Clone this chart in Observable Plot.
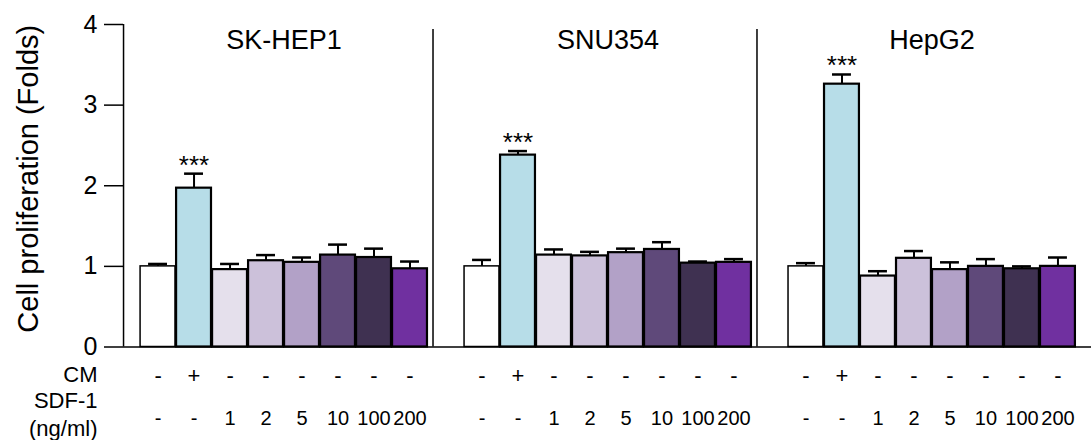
<!DOCTYPE html>
<html><head><meta charset="utf-8">
<script src="https://cdn.jsdelivr.net/npm/d3@7"></script>
<script src="https://cdn.jsdelivr.net/npm/@observablehq/plot@0.6"></script>
<style>body{margin:0;background:#fff;} svg{display:block;}</style>
</head><body><div id="chart"></div>
<script>
const groups = ["SK-HEP1", "SNU354", "HepG2"];
const cmRow = ["-", "+", "-", "-", "-", "-", "-", "-"];
const sdfRow = ["-", "-", "1", "2", "5", "10", "100", "200"];
const barColors = ["#ffffff", "#b7dde8", "#e5e0ec", "#ccc1da", "#b2a1c7", "#5f497a", "#3f3151", "#7030a0"];
const skhep1 = [1.00, 1.97, 0.96, 1.07, 1.05, 1.14, 1.11, 0.97];
const skhep1Err = [0.03, 0.18, 0.07, 0.07, 0.06, 0.13, 0.11, 0.09];
const snu354 = [1.00, 2.38, 1.14, 1.13, 1.17, 1.21, 1.04, 1.05];
const snu354Err = [0.08, 0.05, 0.07, 0.05, 0.05, 0.09, 0.02, 0.04];
const hepg2 = [1.00, 3.26, 0.88, 1.10, 0.96, 1.00, 0.97, 1.00];
const hepg2Err = [0.04, 0.12, 0.06, 0.09, 0.09, 0.09, 0.03, 0.11];
const yTicks = [0, 1, 2, 3, 4];
const yLabel = "Cell proliferation (Folds)";
const sigLabel = "***";

const vals = [skhep1, snu354, hepg2];
const errs = [skhep1Err, snu354Err, hepg2Err];
const rows = [];
groups.forEach((g, gi) => sdfRow.forEach((s, i) => rows.push({
  group: g, cond: "c" + i, key: g + "|" + i, value: vals[gi][i], err: errs[gi][i], cm: cmRow[i], sdf: s
})));
const xDomain = [];
groups.forEach((g, gi) => { if (gi > 0) xDomain.push("gap" + gi); sdfRow.forEach((s, i) => xDomain.push(g + "|" + i)); });
const gaps = groups.slice(1).map((g, gi) => "gap" + (gi + 1));

const chart = Plot.plot({
  width: 1091, height: 440,
  marginLeft: 139, marginRight: 15, marginTop: 24, marginBottom: 93.5,
  style: {fontFamily: "'Liberation Sans', Arial, sans-serif", color: "black", background: "white"},
  x: {domain: xDomain, padding: 0.03, round: false, axis: null},
  y: {domain: [0, 4], axis: null},
  color: {domain: sdfRow.map((s, i) => "c" + i), range: barColors},
  marks: [
    Plot.barY(rows, {x: "key", y: "value", fill: "cond", stroke: "black", strokeWidth: d => d.cond === "c0" ? 1.5 : 2.2}),
    Plot.ruleX(rows, {x: "key", y1: "value", y2: d => d.value + d.err, strokeWidth: 2}),
    Plot.tickY(rows, {x: "key", y: d => d.value + d.err, strokeWidth: 2.5, insetLeft: 8, insetRight: 8}),
    Plot.text(rows.filter(d => d.cm === "+"), {x: "key", y: d => d.value + d.err, text: () => sigLabel, lineAnchor: "bottom", dy: 0, fontSize: 26}),
    Plot.text(groups, {x: g => g + "|3", y: () => 4, text: d => d, dx: 18, dy: 24, lineAnchor: "bottom", fontSize: 27}),
    Plot.ruleX(gaps, {x: d => d, y1: 0, y2: 4, dx: -13, insetBottom: -5, strokeWidth: 1.5}),
    Plot.ruleY([0], {insetLeft: -16, insetRight: -15, strokeWidth: 1.5}),
    Plot.ruleX([xDomain[0]], {x: d => d, y1: 0, y2: 4, dx: -34.5, strokeWidth: 1.5}),
    Plot.axisY({ticks: yTicks, tickSize: 19, tickPadding: 7, dx: -16, fontSize: 25, label: null, tickFormat: d3.format("d"), strokeWidth: 1.5}),
    Plot.text([yLabel], {frameAnchor: "left", textAnchor: "middle", rotate: -90, dx: -111, dy: -7, fontSize: 29}),
    Plot.text(rows, {x: "key", y: () => 0, text: "cm", dy: 28.5, fontSize: 22, lineAnchor: "middle"}),
    Plot.text(rows, {x: "key", y: () => 0, text: "sdf", dy: 72, fontSize: 20, lineAnchor: "middle"}),
    Plot.text(["CM"], {frameAnchor: "bottom-left", textAnchor: "end", lineAnchor: "middle", dx: -42, dy: 27.5, fontSize: 22}),
    Plot.text(["SDF-1"], {frameAnchor: "bottom-left", textAnchor: "end", lineAnchor: "middle", dx: -42, dy: 53.5, fontSize: 22}),
    Plot.text(["(ng/ml)"], {frameAnchor: "bottom-left", textAnchor: "end", lineAnchor: "middle", dx: -42, dy: 81.5, fontSize: 22})
  ]
});
document.getElementById("chart").appendChild(chart);
</script>
</body></html>
